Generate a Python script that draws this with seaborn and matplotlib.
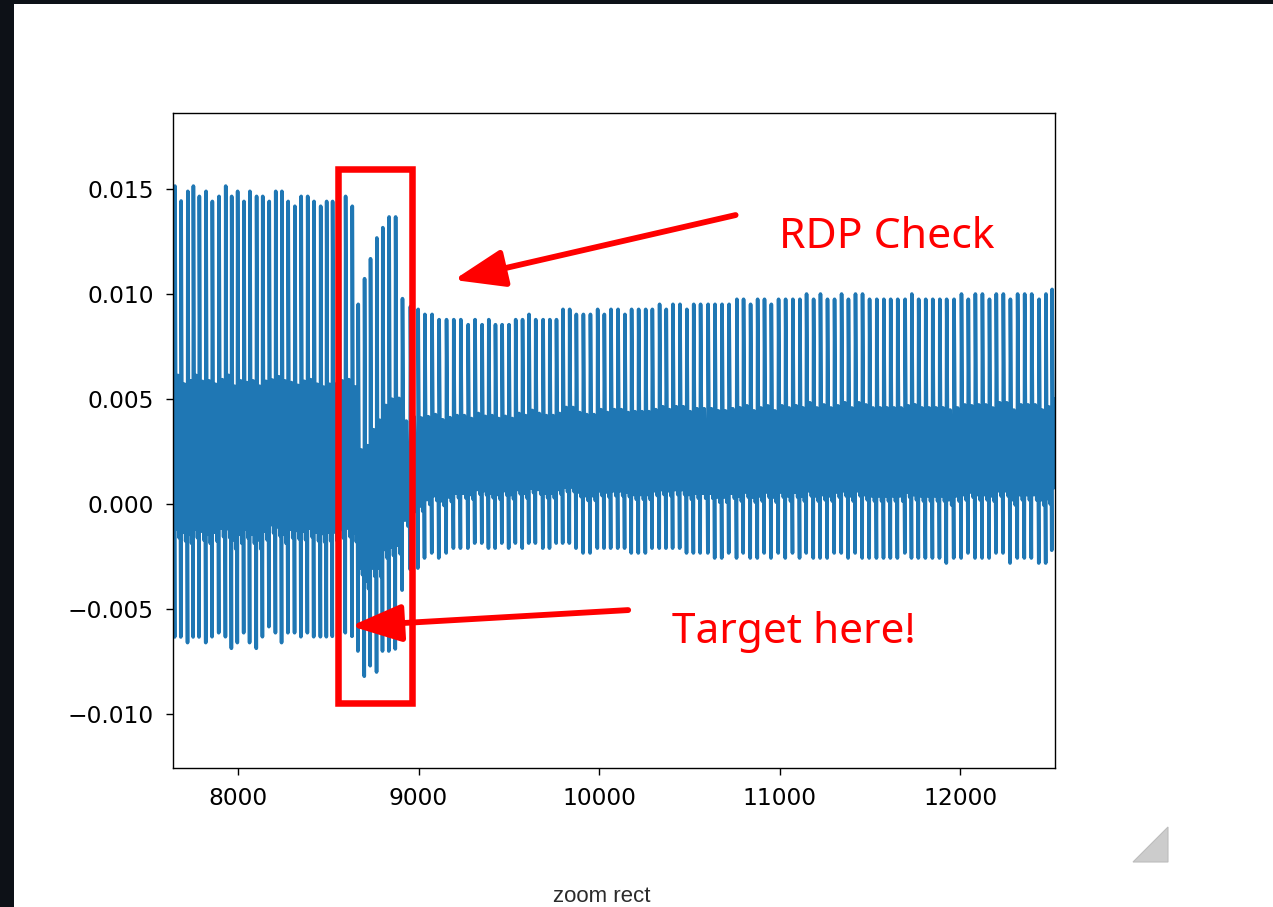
import matplotlib
matplotlib.use("Agg")
import matplotlib.pyplot as plt
import numpy as np
import pandas as pd
import seaborn as sns
from matplotlib.patches import Rectangle, Polygon

# Beat-by-beat description of the recorded waveform (sample index of each peak,
# peak amplitude and the trough that precedes it).
beat_peak_x = [
    7615,
    7651, 7685, 7722, 7753, 7786, 7823, 7858, 7895, 7932, 7965,
    7998, 8033, 8066, 8103, 8137, 8173, 8209, 8243, 8278, 8315,
    8350, 8386, 8421, 8458, 8491, 8524,
    8560, 8596, 8633, 8666, 8701, 8734, 8769, 8802, 8837, 8873, 8911,
    8955, 8998,
    9035, 9075, 9114, 9155, 9195, 9234, 9275, 9313, 9352, 9389,
    9426, 9463, 9501, 9538, 9576, 9612, 9649, 9690, 9727, 9764,
    9800, 9837, 9874, 9913, 9952, 9992, 10029, 10066, 10105, 10143,
    10180, 10219, 10258, 10295, 10335, 10372, 10409, 10448, 10486, 10524,
    10562,
    10604, 10642, 10681, 10720, 10763, 10800, 10839, 10878, 10916, 10954,
    10994, 11033, 11073, 11112, 11149, 11188, 11226, 11265, 11304, 11343,
    11381, 11420, 11459, 11498, 11538, 11577, 11615, 11654, 11695, 11732,
    11770, 11809, 11848, 11887, 11925, 11966, 12007, 12045, 12084, 12123,
    12162, 12200, 12239, 12278, 12318, 12357, 12396, 12437, 12475, 12509,
    12548,
]

beat_peak_y = [
    0.01470,
    0.01514, 0.01443, 0.01489, 0.01514, 0.01465, 0.01489, 0.01441, 0.01465, 0.01514, 0.01465,
    0.01489, 0.01441, 0.01489, 0.01465, 0.01465, 0.01441, 0.01489, 0.01489, 0.01441, 0.01418,
    0.01465, 0.01465, 0.01441, 0.01418, 0.01441, 0.01441,
    0.01460, 0.01465, 0.01418, 0.00951, 0.01073, 0.01168, 0.01267, 0.01316, 0.01367, 0.01367, 0.00978,
    0.00940, 0.00927,
    0.00903, 0.00903, 0.00878, 0.00878, 0.00878, 0.00878, 0.00854, 0.00878, 0.00854, 0.00878,
    0.00854, 0.00854, 0.00854, 0.00878, 0.00878, 0.00903, 0.00878, 0.00878, 0.00878, 0.00878,
    0.00927, 0.00927, 0.00903, 0.00903, 0.00903, 0.00927, 0.00903, 0.00927, 0.00927, 0.00903,
    0.00927, 0.00927, 0.00927, 0.00927, 0.00951, 0.00927, 0.00951, 0.00951, 0.00927, 0.00951,
    0.00951,
    0.00951, 0.00951, 0.00951, 0.00951, 0.00975, 0.00975, 0.00951, 0.00975, 0.00975, 0.00951,
    0.00975, 0.00975, 0.00975, 0.00975, 0.01000, 0.00975, 0.01000, 0.00975, 0.00975, 0.01000,
    0.00975, 0.01000, 0.01000, 0.00975, 0.00975, 0.00975, 0.00975, 0.00975, 0.00975, 0.01000,
    0.00975, 0.00975, 0.00975, 0.00975, 0.00975, 0.00975, 0.01000, 0.00975, 0.01000, 0.01000,
    0.00975, 0.01000, 0.01000, 0.00975, 0.01000, 0.01000, 0.01000, 0.00975, 0.01000, 0.01022,
    0.01000,
]

beat_trough_y = [
    -0.00650,
    -0.00633, -0.00633, -0.00660, -0.00633, -0.00633, -0.00660, -0.00632, -0.00613, -0.00632, -0.00687,
    -0.00660, -0.00613, -0.00660, -0.00687, -0.00632, -0.00584, -0.00613, -0.00660, -0.00613, -0.00613,
    -0.00632, -0.00613, -0.00632, -0.00632, -0.00632, -0.00630,
    -0.00620, -0.00613, -0.00630, -0.00700, -0.00820, -0.00770, -0.00800, -0.00700, -0.00700, -0.00690, -0.00410,
    -0.00310, -0.00305,
    -0.00257, -0.00233, -0.00257, -0.00233, -0.00210, -0.00210, -0.00210, -0.00186, -0.00186, -0.00210,
    -0.00210, -0.00186, -0.00210, -0.00186, -0.00210, -0.00186, -0.00186, -0.00210, -0.00210, -0.00186,
    -0.00186, -0.00186, -0.00210, -0.00233, -0.00233, -0.00210, -0.00210, -0.00210, -0.00210, -0.00210,
    -0.00233, -0.00233, -0.00233, -0.00210, -0.00210, -0.00210, -0.00210, -0.00210, -0.00233, -0.00233,
    -0.00233,
    -0.00233, -0.00257, -0.00257, -0.00233, -0.00257, -0.00233, -0.00257, -0.00257, -0.00233, -0.00257,
    -0.00233, -0.00257, -0.00233, -0.00257, -0.00233, -0.00257, -0.00257, -0.00257, -0.00233, -0.00233,
    -0.00257, -0.00233, -0.00257, -0.00257, -0.00257, -0.00257, -0.00257, -0.00257, -0.00233, -0.00257,
    -0.00257, -0.00257, -0.00257, -0.00257, -0.00281, -0.00257, -0.00257, -0.00233, -0.00257, -0.00257,
    -0.00257, -0.00233, -0.00233, -0.00281, -0.00257, -0.00257, -0.00257, -0.00281, -0.00281, -0.00220,
    -0.00250,
]

# Shape of one beat: position as a fraction of the beat interval and level as a
# fraction of that beat's trough-to-peak swing.
beat_shape_offset = [-0.05, 0.00, 0.10, 0.30, 0.48, 0.68, 0.86]
beat_shape_level = [0.00, 1.00, 0.58, 0.24, 0.58, 0.22, 0.40]

# Expand the beats into a continuous trace
samples, amplitude = [], []
n_beats = len(beat_peak_x)
for i in range(n_beats):
    if i < n_beats - 1:
        interval = beat_peak_x[i + 1] - beat_peak_x[i]
    else:
        interval = beat_peak_x[i] - beat_peak_x[i - 1]
    lo, hi = beat_trough_y[i], beat_peak_y[i]
    for off, lev in zip(beat_shape_offset, beat_shape_level):
        samples.append(beat_peak_x[i] + off * interval)
        amplitude.append(lo + lev * (hi - lo))

trace = pd.DataFrame({"sample": samples, "amplitude": amplitude})

W, H = 1273, 907
fig = plt.figure(figsize=(W / 100, H / 100), dpi=100)
fig.patch.set_facecolor("white")

ax = fig.add_axes([173 / W, (H - 768) / H, 882 / W, 655 / H])
sns.lineplot(data=trace, x="sample", y="amplitude", ax=ax, color="#1f77b4",
             linewidth=2.6, estimator=None, sort=False)
ax.set_xlabel("")
ax.set_ylabel("")
ax.set_xlim(7640, 12525)
ax.set_ylim(-0.01257, 0.01862)
ax.set_xticks([8000, 9000, 10000, 11000, 12000])
ax.set_yticks([-0.010, -0.005, 0.000, 0.005, 0.010, 0.015])
ax.tick_params(labelsize=16.8, length=5.2, width=1.0, pad=8.5, color="black")
for sp in ax.spines.values():
    sp.set_linewidth(1.0)
    sp.set_color("black")

# Highlighted region
ax.add_patch(Rectangle((8555, -0.00949), 8964 - 8555, 0.01594 + 0.00949,
                       fill=False, edgecolor="#ff0000", linewidth=4.7, zorder=5))

arrow_style = "-|>,head_length=3.1,head_width=1.15"
ax.annotate("", xy=(9195, 0.01067), xytext=(10756, 0.01376),
            arrowprops=dict(arrowstyle=arrow_style, color="#ff0000", lw=4.2,
                            shrinkA=0, shrinkB=0, mutation_scale=10),
            zorder=6)
ax.annotate("", xy=(8625, -0.00581), xytext=(10161, -0.00505),
            arrowprops=dict(arrowstyle=arrow_style, color="#ff0000", lw=4.2,
                            shrinkA=0, shrinkB=0, mutation_scale=10),
            zorder=6)

ax.text(10994, 0.01217, "RDP Check", color="#ff0000", fontsize=30.8,
        family=["Noto Sans", "DejaVu Sans"], ha="left", va="baseline", zorder=7)
ax.text(10402, -0.00664, "Target here!", color="#ff0000", fontsize=30.5,
        family=["Noto Sans", "DejaVu Sans"], ha="left", va="baseline", zorder=7)

# Toolbar status message under the canvas
fig.text(602 / W, 1 - 896 / H, "zoom rect", color="#2b2b2b", fontsize=16,
         family=["Liberation Sans", "DejaVu Sans"], ha="center", va="center")

# Resize grip in the lower-right corner
grip = Polygon([(1133 / W, 1 - 862 / H), (1168 / W, 1 - 827 / H), (1168 / W, 1 - 862 / H)],
               closed=True, transform=fig.transFigure, facecolor="#cccccc",
               edgecolor="#bdbdbd", linewidth=0.8)
fig.patches.append(grip)

# Dark page frame along the top and left edges
fig.patches.append(Rectangle((0, 1 - 4 / H), 1, 4 / H, transform=fig.transFigure,
                             facecolor="#0d1117", edgecolor="none"))
fig.patches.append(Rectangle((0, 0), 14 / W, 1, transform=fig.transFigure,
                             facecolor="#0d1117", edgecolor="none"))

fig.savefig("out.png", dpi=100)
